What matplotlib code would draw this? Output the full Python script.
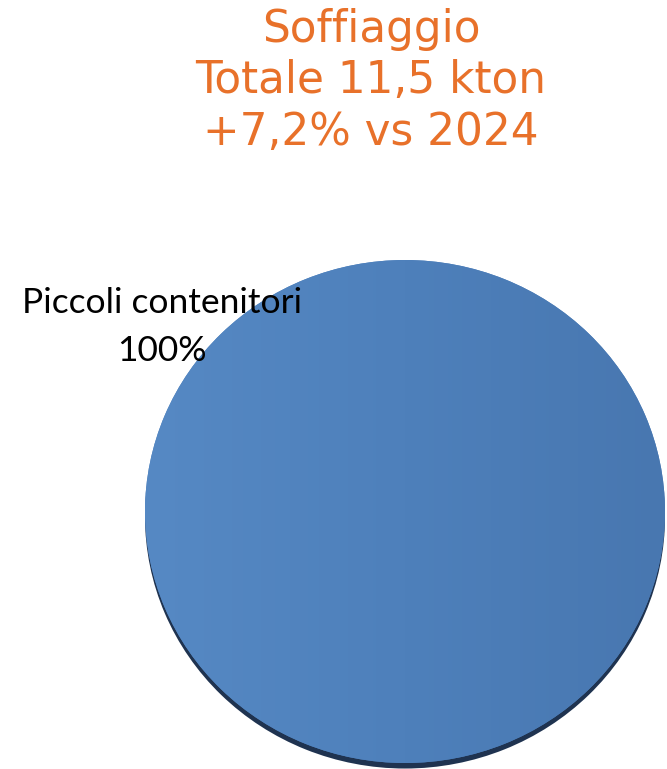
import numpy as np
from matplotlib import pyplot as plt
from matplotlib.colors import LinearSegmentedColormap

# dati
labels = ["Piccoli contenitori"]
values = [100]
title_lines = ["Soffiaggio", "Totale 11,5 kton", "+7,2% vs 2024"]

W, H = 667, 769
fig = plt.figure(figsize=(W / 100, H / 100), dpi=100)

# asse della torta in pixel (leggermente ellittica, effetto 3D)
left, right, top, bottom = 145, 665, 260, 763
ax = fig.add_axes([left / W, (H - bottom) / H, (right - left) / W, (bottom - top) / H])

# ombra sotto il disco
shadow, _ = ax.pie(values, radius=1.0, center=(0, -0.022), colors=["#1f3350"],
                   startangle=90, counterclock=False)
for w in shadow:
    w.set_clip_on(False)

wedges, _ = ax.pie(values, radius=1.0, colors=["#4f81bd"], startangle=90,
                   counterclock=False)

# sfumatura leggera da sinistra (chiaro) a destra (scuro)
cmap = LinearSegmentedColormap.from_list("blu", ["#5689c4", "#4e80bb", "#4877b0"])
grad = np.linspace(0, 1, 256).reshape(1, -1)
grad = np.repeat(grad, 8, axis=0)
img = ax.imshow(grad, cmap=cmap, extent=[-1, 1, -1, 1], aspect="auto", zorder=3)
img.set_clip_path(wedges[0])

ax.set_xlim(-1, 1)
ax.set_ylim(-1, 1)
ax.set_aspect("auto")
ax.axis("off")

# titolo
fig.text(371 / W, 1 - 81 / H, "\n".join(title_lines), ha="center", va="center",
         color="#e8712a", fontsize=31.5, family="DejaVu Sans", linespacing=1.25)

# etichetta
pct = values[0] / sum(values) * 100
fig.text(162 / W, 1 - 327 / H, f"{labels[0]}\n{pct:.0f}%", ha="center", va="center",
         color="black", fontsize=25.5, family="Lato", linespacing=1.58, zorder=5)

fig.savefig("out.png", dpi=100)
